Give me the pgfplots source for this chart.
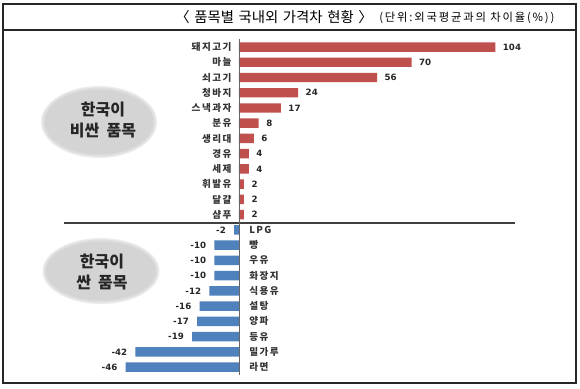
\documentclass[border=0pt]{standalone}
\usepackage{pgfplots}
\pgfplotsset{compat=1.18}
\usepackage{pgfplotstable}
\usepackage{fontspec}
\setmainfont{DejaVu Sans}
\newfontfamily\kr{Noto Sans CJK KR}
\newfontfamily\krs{Noto Sans CJK KR}[LetterSpace=15]
\newfontfamily\kru{Noto Sans CJK KR}[LetterSpace=16]
\newfontfamily\dv{DejaVu Sans}
\definecolor{barred}{RGB}{192,80,77}
\definecolor{barblue}{RGB}{79,129,189}
\definecolor{ellA}{RGB}{236,236,236}
\definecolor{ellB}{RGB}{222,222,222}
\definecolor{ellC}{RGB}{212,212,212}

\pgfplotstableread{
idx val label
0 104 돼지고기
1 70 마늘
2 56 쇠고기
3 24 청바지
4 17 스낵과자
5 8 분유
6 6 생리대
7 4 경유
8 4 세제
9 2 휘발유
10 2 달걀
11 2 샴푸
}\posdata

\pgfplotstableread{
idx val label
12 -2 LPG
13 -10 빵
14 -10 우유
15 -10 화장지
16 -12 식용유
17 -16 설탕
18 -17 양파
19 -19 등유
20 -42 밀가루
21 -46 라면
}\negdata

\begin{document}
\begin{tikzpicture}
\path[use as bounding box] (0,0) rectangle (435pt,291pt);
\begin{scope}[x=0.75pt,y=-0.75pt,yshift=291pt]
  \fill[white] (0,0) rectangle (580,388);
  % ellipses
  \fill[ellA] (99,122) ellipse [x radius=58, y radius=36];
  \fill[ellB] (99,122) ellipse [x radius=56.5, y radius=34.5];
  \fill[ellC] (99,122) ellipse [x radius=54.5, y radius=32.5];
  \fill[ellA] (101,271) ellipse [x radius=58.5, y radius=33];
  \fill[ellB] (101,271) ellipse [x radius=57, y radius=31.5];
  \fill[ellC] (101,271) ellipse [x radius=55, y radius=29.5];
  \node[align=center, font=\kr\bfseries\fontsize{12}{16}\selectfont, text=black!85] at (103,120) {한국이\\비싼\hspace{0.45em}품목};
  \node[align=center, font=\kr\bfseries\fontsize{12}{16}\selectfont, text=black!85] at (102,272) {한국이\\싼\hspace{0.45em}품목};
  % frame
  \draw[black!85, line width=0.8pt] (3,4) rectangle (576,383);
  \draw[black!85, line width=0.8pt] (3,30) -- (576,30);
  \draw[black!75, line width=1pt] (64,223) -- (515,223);
  % title
  \node[anchor=west, inner sep=0pt, font=\kr\fontsize{10.8}{12}\selectfont] at (175,17) {〈\hspace{0.32em}품목별\hspace{0.32em}국내외\hspace{0.32em}가격차\hspace{0.32em}현황\hspace{0.32em}〉};
  \node[anchor=west, inner sep=0pt, font=\kru\fontsize{8.5}{10}\selectfont] at (379,17.5) {(단위:외국평균과의 차이율(\%))};
\end{scope}
\begin{axis}[
  at={(86.8pt,261.45pt)}, anchor=north west,
  scale only axis, width=295.8pt, height=251.5pt,
  xmin=-50, xmax=110, ymin=-0.5, ymax=21.5, y dir=reverse,
  hide axis, clip=false,
  /pgf/number format/assume math mode=true,
]
\addplot[xbar, bar shift=0pt, bar width=7.1pt, fill=barred, draw=none,
  point meta=x, nodes near coords,
  every node near coord/.append style={anchor=west, inner sep=0pt, xshift=5.5pt,
    font=\dv\bfseries\fontsize{6.5}{7}\selectfont, text=black!85}]
  table[x=val, y=idx] \posdata;
\addplot[xbar, bar shift=0pt, bar width=7.1pt, fill=barblue, draw=none,
  point meta=x, nodes near coords,
  every node near coord/.append style={anchor=east, inner sep=0pt, xshift=-6pt,
    font=\dv\bfseries\fontsize{6.5}{7}\selectfont, text=black!85}]
  table[x=val, y=idx] \negdata;
\addplot[draw=none, point meta=explicit symbolic, nodes near coords,
  every node near coord/.append style={anchor=east, inner sep=0pt, xshift=-5.5pt,
    font=\krs\bfseries\fontsize{7.2}{8}\selectfont, text=black!80}]
  table[x expr=0, y=idx, meta=label] \posdata;
\addplot[draw=none, point meta=explicit symbolic, nodes near coords,
  every node near coord/.append style={anchor=west, inner sep=0pt, xshift=7.5pt,
    font=\krs\bfseries\fontsize{7.2}{8}\selectfont, text=black!80}]
  table[x expr=0, y=idx, meta=label] \negdata;
\draw[black!60, line width=0.6pt] (axis cs:0,-0.5) -- (axis cs:0,21.5);
\end{axis}
\end{tikzpicture}
\end{document}
